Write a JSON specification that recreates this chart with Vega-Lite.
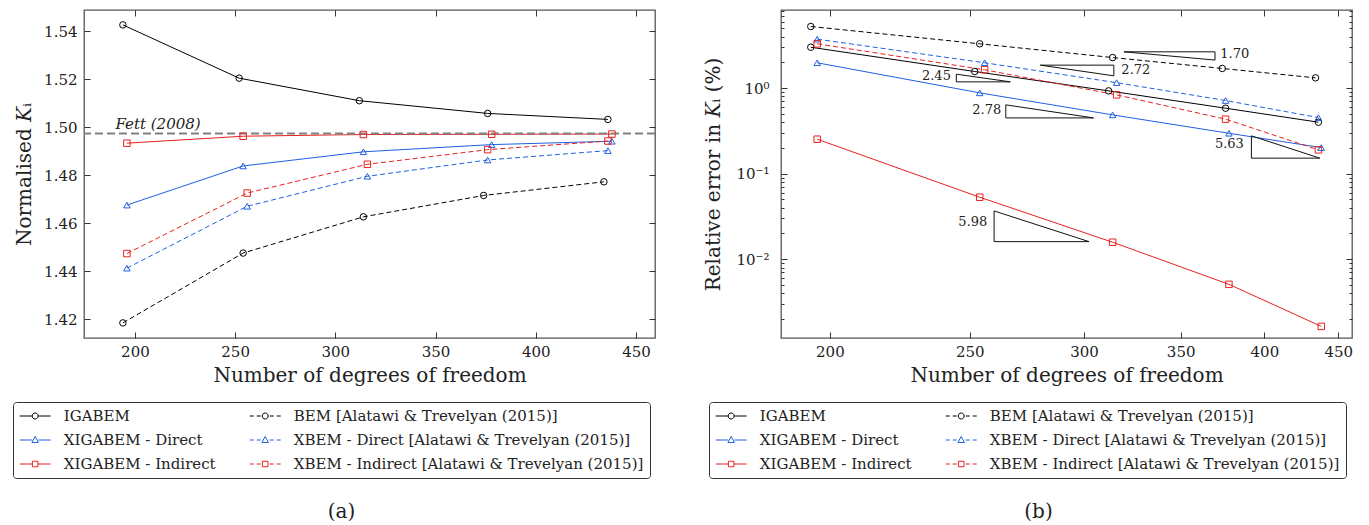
{
  "$schema": "https://vega.github.io/schema/vega-lite/v6.json",
  "autosize": {"type": "pad"},
  "padding": {"left": 11, "top": 3, "right": 14, "bottom": 3},
  "spacing": 126,
  "bounds": "flush",
  "background": "white",
  "config": {
    "font": "DejaVu Serif",
    "view": {"stroke": "#555555", "strokeWidth": 1.3},
    "axis": {
      "domain": false, "grid": false, "tickColor": "#333333", "tickWidth": 1,
      "labelFont": "DejaVu Serif", "labelFontSize": 15, "labelColor": "#222222",
      "titleFont": "DejaVu Serif", "titleFontSize": 20, "titleFontWeight": "normal", "titleColor": "#222222",
      "labelFlush": false, "labelOverlap": false, "labelBound": false
    },
    "legend": {
      "labelFont": "DejaVu Serif", "labelFontSize": 15, "labelColor": "#222222", "labelOffset": 28.8, "labelLimit": 500,
      "columnPadding": 31, "rowPadding": 8, "padding": 6, "strokeColor": "#333333", "cornerRadius": 3, "fillColor": "white",
      "symbolSize": 225, "symbolStrokeWidth": 1, "symbolFillColor": "transparent", "symbolOpacity": 1
    },
    "title": {"font": "DejaVu Serif", "fontSize": 20, "fontWeight": "normal", "color": "#222222"}
  },
  "resolve": {"scale": {"color": "independent", "shape": "independent"}},
  "datasets": {
    "kn": [
      {"series": "IGABEM", "dof": 194, "k": 1.5426},
      {"series": "IGABEM", "dof": 252, "k": 1.5204},
      {"series": "IGABEM", "dof": 312, "k": 1.5110},
      {"series": "IGABEM", "dof": 376, "k": 1.5057},
      {"series": "IGABEM", "dof": 436, "k": 1.5032},
      {"series": "BEM [Alatawi & Trevelyan (2015)]", "dof": 194, "k": 1.4184},
      {"series": "BEM [Alatawi & Trevelyan (2015)]", "dof": 254, "k": 1.4475},
      {"series": "BEM [Alatawi & Trevelyan (2015)]", "dof": 314, "k": 1.4626},
      {"series": "BEM [Alatawi & Trevelyan (2015)]", "dof": 374, "k": 1.4715},
      {"series": "BEM [Alatawi & Trevelyan (2015)]", "dof": 434, "k": 1.4772},
      {"series": "XIGABEM - Direct", "dof": 196, "k": 1.4675},
      {"series": "XIGABEM - Direct", "dof": 254, "k": 1.4838},
      {"series": "XIGABEM - Direct", "dof": 314, "k": 1.4897},
      {"series": "XIGABEM - Direct", "dof": 378, "k": 1.4927},
      {"series": "XIGABEM - Direct", "dof": 438, "k": 1.4941},
      {"series": "XBEM - Direct [Alatawi & Trevelyan (2015)]", "dof": 196, "k": 1.4412},
      {"series": "XBEM - Direct [Alatawi & Trevelyan (2015)]", "dof": 256, "k": 1.4670},
      {"series": "XBEM - Direct [Alatawi & Trevelyan (2015)]", "dof": 316, "k": 1.4795},
      {"series": "XBEM - Direct [Alatawi & Trevelyan (2015)]", "dof": 376, "k": 1.4863},
      {"series": "XBEM - Direct [Alatawi & Trevelyan (2015)]", "dof": 436, "k": 1.4902},
      {"series": "XIGABEM - Indirect", "dof": 196, "k": 1.4933},
      {"series": "XIGABEM - Indirect", "dof": 254, "k": 1.4962},
      {"series": "XIGABEM - Indirect", "dof": 314, "k": 1.4969},
      {"series": "XIGABEM - Indirect", "dof": 378, "k": 1.4970},
      {"series": "XIGABEM - Indirect", "dof": 438, "k": 1.4971},
      {"series": "XBEM - Indirect [Alatawi & Trevelyan (2015)]", "dof": 196, "k": 1.4473},
      {"series": "XBEM - Indirect [Alatawi & Trevelyan (2015)]", "dof": 256, "k": 1.4725},
      {"series": "XBEM - Indirect [Alatawi & Trevelyan (2015)]", "dof": 316, "k": 1.4845},
      {"series": "XBEM - Indirect [Alatawi & Trevelyan (2015)]", "dof": 376, "k": 1.4906},
      {"series": "XBEM - Indirect [Alatawi & Trevelyan (2015)]", "dof": 436, "k": 1.4942}
    ],
    "err": [
      {"series": "IGABEM", "dof": 194, "e": 3.01},
      {"series": "IGABEM", "dof": 252, "e": 1.565},
      {"series": "IGABEM", "dof": 312, "e": 0.930},
      {"series": "IGABEM", "dof": 376, "e": 0.583},
      {"series": "IGABEM", "dof": 436, "e": 0.400},
      {"series": "BEM [Alatawi & Trevelyan (2015)]", "dof": 194, "e": 5.26},
      {"series": "BEM [Alatawi & Trevelyan (2015)]", "dof": 254, "e": 3.30},
      {"series": "BEM [Alatawi & Trevelyan (2015)]", "dof": 314, "e": 2.28},
      {"series": "BEM [Alatawi & Trevelyan (2015)]", "dof": 374, "e": 1.70},
      {"series": "BEM [Alatawi & Trevelyan (2015)]", "dof": 434, "e": 1.32},
      {"series": "XIGABEM - Direct", "dof": 196, "e": 1.98},
      {"series": "XIGABEM - Direct", "dof": 254, "e": 0.881},
      {"series": "XIGABEM - Direct", "dof": 314, "e": 0.487},
      {"series": "XIGABEM - Direct", "dof": 378, "e": 0.297},
      {"series": "XIGABEM - Direct", "dof": 438, "e": 0.202},
      {"series": "XBEM - Direct [Alatawi & Trevelyan (2015)]", "dof": 196, "e": 3.74},
      {"series": "XBEM - Direct [Alatawi & Trevelyan (2015)]", "dof": 256, "e": 1.98},
      {"series": "XBEM - Direct [Alatawi & Trevelyan (2015)]", "dof": 316, "e": 1.16},
      {"series": "XBEM - Direct [Alatawi & Trevelyan (2015)]", "dof": 376, "e": 0.717},
      {"series": "XBEM - Direct [Alatawi & Trevelyan (2015)]", "dof": 436, "e": 0.453},
      {"series": "XIGABEM - Indirect", "dof": 196, "e": 0.253},
      {"series": "XIGABEM - Indirect", "dof": 254, "e": 0.0531},
      {"series": "XIGABEM - Indirect", "dof": 314, "e": 0.0158},
      {"series": "XIGABEM - Indirect", "dof": 378, "e": 0.00509},
      {"series": "XIGABEM - Indirect", "dof": 438, "e": 0.00164},
      {"series": "XBEM - Indirect [Alatawi & Trevelyan (2015)]", "dof": 196, "e": 3.30},
      {"series": "XBEM - Indirect [Alatawi & Trevelyan (2015)]", "dof": 256, "e": 1.64},
      {"series": "XBEM - Indirect [Alatawi & Trevelyan (2015)]", "dof": 316, "e": 0.835},
      {"series": "XBEM - Indirect [Alatawi & Trevelyan (2015)]", "dof": 376, "e": 0.434},
      {"series": "XBEM - Indirect [Alatawi & Trevelyan (2015)]", "dof": 436, "e": 0.190}
    ],
    "tri": [
      {"id": "t170", "ord": 1, "dof": 319.7, "e": 2.66},
      {"id": "t170", "ord": 2, "dof": 369.7, "e": 2.66},
      {"id": "t170", "ord": 3, "dof": 369.7, "e": 2.13},
      {"id": "t170", "ord": 4, "dof": 319.7, "e": 2.66},
      {"id": "t272", "ord": 1, "dof": 279.8, "e": 1.858},
      {"id": "t272", "ord": 2, "dof": 314.6, "e": 1.858},
      {"id": "t272", "ord": 3, "dof": 314.6, "e": 1.393},
      {"id": "t272", "ord": 4, "dof": 279.8, "e": 1.858},
      {"id": "t245", "ord": 1, "dof": 244.7, "e": 1.458},
      {"id": "t245", "ord": 2, "dof": 244.7, "e": 1.185},
      {"id": "t245", "ord": 3, "dof": 266.7, "e": 1.185},
      {"id": "t245", "ord": 4, "dof": 244.7, "e": 1.458},
      {"id": "t278", "ord": 1, "dof": 264.8, "e": 0.638},
      {"id": "t278", "ord": 2, "dof": 264.8, "e": 0.449},
      {"id": "t278", "ord": 3, "dof": 304.6, "e": 0.449},
      {"id": "t278", "ord": 4, "dof": 264.8, "e": 0.638},
      {"id": "t563", "ord": 1, "dof": 391.8, "e": 0.277},
      {"id": "t563", "ord": 2, "dof": 391.8, "e": 0.152},
      {"id": "t563", "ord": 3, "dof": 437.0, "e": 0.152},
      {"id": "t563", "ord": 4, "dof": 391.8, "e": 0.277},
      {"id": "t598", "ord": 1, "dof": 259.9, "e": 0.0367},
      {"id": "t598", "ord": 2, "dof": 259.9, "e": 0.01606},
      {"id": "t598", "ord": 3, "dof": 302.4, "e": 0.01606},
      {"id": "t598", "ord": 4, "dof": 259.9, "e": 0.0367}
    ],
    "triLabels": [
      {"label": "1.70", "dof": 372.8, "e": 2.50},
      {"label": "2.72", "dof": 318.4, "e": 1.64},
      {"label": "2.45", "dof": 242.6, "e": 1.37},
      {"label": "2.78", "dof": 262.9, "e": 0.557},
      {"label": "5.63", "dof": 387.1, "e": 0.225},
      {"label": "5.98", "dof": 257.1, "e": 0.0273}
    ],
    "fett": [{"label": "Fett (2008)", "dof": 190.3, "k": 1.4991, "ref": 1.4973}]
  },
  "hconcat": [
    {
      "width": 571, "height": 328,
      "title": {"text": "(a)", "orient": "bottom", "anchor": "middle", "offset": 23, "dx": -28},
      "resolve": {"axis": {"x": "independent", "y": "independent"}},
      "layer": [
        {
          "data": {"name": "kn"},
          "transform": [{"filter": "datum.series == 'IGABEM'"}],
          "mark": {"type": "line", "strokeWidth": 1, "color": "#000000"},
          "encoding": {
            "x": {"field": "dof", "type": "quantitative", "scale": {"domain": [174.6, 459.5], "nice": false, "zero": false},
                  "axis": {"orient": "bottom", "title": "Number of degrees of freedom", "values": [200, 250, 300, 350, 400, 450], "tickSize": -6, "labelPadding": 12, "titlePadding": 6}},
            "y": {"field": "k", "type": "quantitative", "scale": {"domain": [1.4121, 1.5488], "nice": false, "zero": false},
                  "axis": {"orient": "left", "title": "Normalised 𝐾ᵢ", "values": [1.42, 1.44, 1.46, 1.48, 1.5, 1.52, 1.54], "format": ".2f", "tickSize": -6, "labelPadding": 13, "titlePadding": 9}}
          }
        },
        {
          "data": {"name": "kn"},
          "transform": [{"filter": "datum.series == 'BEM [Alatawi & Trevelyan (2015)]'"}],
          "mark": {"type": "line", "strokeWidth": 1, "color": "#000000", "strokeDash": [5, 3]},
          "encoding": {"x": {"field": "dof", "type": "quantitative", "axis": null}, "y": {"field": "k", "type": "quantitative", "axis": null}}
        },
        {
          "data": {"name": "kn"},
          "transform": [{"filter": "datum.series == 'XIGABEM - Direct'"}],
          "mark": {"type": "line", "strokeWidth": 1, "color": "#1f5fe0"},
          "encoding": {"x": {"field": "dof", "type": "quantitative", "axis": null}, "y": {"field": "k", "type": "quantitative", "axis": null}}
        },
        {
          "data": {"name": "kn"},
          "transform": [{"filter": "datum.series == 'XBEM - Direct [Alatawi & Trevelyan (2015)]'"}],
          "mark": {"type": "line", "strokeWidth": 1, "color": "#1f5fe0", "strokeDash": [5, 3]},
          "encoding": {"x": {"field": "dof", "type": "quantitative", "axis": null}, "y": {"field": "k", "type": "quantitative", "axis": null}}
        },
        {
          "data": {"name": "kn"},
          "transform": [{"filter": "datum.series == 'XIGABEM - Indirect'"}],
          "mark": {"type": "line", "strokeWidth": 1, "color": "#e8201e"},
          "encoding": {"x": {"field": "dof", "type": "quantitative", "axis": null}, "y": {"field": "k", "type": "quantitative", "axis": null}}
        },
        {
          "data": {"name": "kn"},
          "transform": [{"filter": "datum.series == 'XBEM - Indirect [Alatawi & Trevelyan (2015)]'"}],
          "mark": {"type": "line", "strokeWidth": 1, "color": "#e8201e", "strokeDash": [5, 3]},
          "encoding": {"x": {"field": "dof", "type": "quantitative", "axis": null}, "y": {"field": "k", "type": "quantitative", "axis": null}}
        },
        {
          "data": {"name": "fett"},
          "mark": {"type": "rule", "color": "#808080", "strokeWidth": 2, "strokeDash": [8, 4]},
          "encoding": {
            "y": {"field": "ref", "type": "quantitative", "axis": {"orient": "right", "labels": false, "title": null, "values": [1.42, 1.44, 1.46, 1.48, 1.5, 1.52, 1.54], "tickSize": -6}}
          }
        },
        {
          "data": {"name": "fett"},
          "mark": {"type": "text", "align": "left", "baseline": "alphabetic", "fontStyle": "italic", "fontSize": 15, "color": "#222222"},
          "encoding": {
            "x": {"field": "dof", "type": "quantitative", "axis": {"orient": "top", "labels": false, "title": null, "values": [200, 250, 300, 350, 400, 450], "tickSize": -6}},
            "y": {"field": "k", "type": "quantitative", "axis": null},
            "text": {"field": "label"}
          }
        },
        {
          "data": {"name": "kn"},
          "transform": [{"filter": "datum.series == 'IGABEM' || datum.series == 'BEM [Alatawi & Trevelyan (2015)]'"}],
          "mark": {"type": "point", "shape": "circle", "filled": false, "size": 42, "strokeWidth": 1, "opacity": 1, "color": "#000000"},
          "encoding": {"x": {"field": "dof", "type": "quantitative", "axis": null}, "y": {"field": "k", "type": "quantitative", "axis": null}}
        },
        {
          "data": {"name": "kn"},
          "transform": [{"filter": "indexof(datum.series, 'Direct') >= 0"}],
          "mark": {"type": "point", "shape": "triangle-up", "filled": false, "size": 42, "strokeWidth": 1, "opacity": 1, "color": "#1f5fe0"},
          "encoding": {"x": {"field": "dof", "type": "quantitative", "axis": null}, "y": {"field": "k", "type": "quantitative", "axis": null}}
        },
        {
          "data": {"name": "kn"},
          "transform": [{"filter": "indexof(datum.series, 'Indirect') >= 0"}],
          "mark": {"type": "point", "shape": "square", "filled": false, "size": 42, "strokeWidth": 1, "opacity": 1, "color": "#e8201e"},
          "encoding": {"x": {"field": "dof", "type": "quantitative", "axis": null}, "y": {"field": "k", "type": "quantitative", "axis": null}}
        },
        {
          "data": {"name": "kn"},
          "transform": [{"filter": "false"}],
          "mark": {"type": "point", "filled": false, "size": 225, "strokeWidth": 1, "opacity": 1},
          "encoding": {
            "x": {"field": "dof", "type": "quantitative", "axis": null},
            "y": {"field": "k", "type": "quantitative", "axis": null},
            "color": {"field": "series", "type": "nominal",
                      "scale": {"domain": ["IGABEM", "XIGABEM - Direct", "XIGABEM - Indirect", "BEM [Alatawi & Trevelyan (2015)]", "XBEM - Direct [Alatawi & Trevelyan (2015)]", "XBEM - Indirect [Alatawi & Trevelyan (2015)]"],
                                "range": ["#000000", "#1f5fe0", "#e8201e", "#000000", "#1f5fe0", "#e8201e"]},
                      "legend": {"orient": "none", "legendX": -71, "legendY": 392, "columns": 2, "title": null}},
            "shape": {"field": "series", "type": "nominal",
                      "scale": {"domain": ["IGABEM", "XIGABEM - Direct", "XIGABEM - Indirect", "BEM [Alatawi & Trevelyan (2015)]", "XBEM - Direct [Alatawi & Trevelyan (2015)]", "XBEM - Indirect [Alatawi & Trevelyan (2015)]"],
                                "range": [
                                  "M-0.97,0H0.69M1.49,0H3.16M0.69,0A0.4,0.4 0 1,1 1.49,0A0.4,0.4 0 1,1 0.69,0Z",
                                  "M-0.97,0H0.65M1.53,0H3.16M1.09,-0.47L1.53,0.33L0.65,0.33Z",
                                  "M-0.97,0H0.72M1.46,0H3.16M0.72,-0.37H1.46V0.37H0.72Z",
                                  "M-0.97,0H-0.44M-0.04,0H0.49M1.69,0H2.23M2.63,0H3.16M0.69,0A0.4,0.4 0 1,1 1.49,0A0.4,0.4 0 1,1 0.69,0Z",
                                  "M-0.97,0H-0.44M-0.04,0H0.49M1.69,0H2.23M2.63,0H3.16M1.09,-0.47L1.53,0.33L0.65,0.33Z",
                                  "M-0.97,0H-0.44M-0.04,0H0.49M1.69,0H2.23M2.63,0H3.16M0.72,-0.37H1.46V0.37H0.72Z"
                                ]},
                      "legend": {"orient": "none", "legendX": -71, "legendY": 392, "columns": 2, "title": null}}
          }
        }
      ]
    },
    {
      "width": 571, "height": 328,
      "title": {"text": "(b)", "orient": "bottom", "anchor": "middle", "offset": 23, "dx": -28},
      "resolve": {"axis": {"x": "independent", "y": "independent"}},
      "layer": [
        {
          "data": {"name": "err"},
          "transform": [{"filter": "datum.series == 'IGABEM'"}],
          "mark": {"type": "line", "strokeWidth": 1, "color": "#000000"},
          "encoding": {
            "x": {"field": "dof", "type": "quantitative", "scale": {"type": "log", "domain": [185, 460], "nice": false, "zero": false},
                  "axis": {"orient": "bottom", "title": "Number of degrees of freedom", "values": [200, 250, 300, 350, 400, 450], "format": "d", "tickSize": -6, "labelPadding": 12, "titlePadding": 6}},
            "y": {"field": "e", "type": "quantitative", "scale": {"type": "log", "domain": [0.0012, 8.2], "nice": false, "zero": false},
                  "axis": {"orient": "left", "title": "Relative error in 𝐾ᵢ (%)",
                           "values": [0.002, 0.003, 0.004, 0.005, 0.006, 0.007, 0.008, 0.009, 0.01, 0.02, 0.03, 0.04, 0.05, 0.06, 0.07, 0.08, 0.09, 0.1, 0.2, 0.3, 0.4, 0.5, 0.6, 0.7, 0.8, 0.9, 1, 2, 3, 4, 5, 6, 7, 8],
                           "labelExpr": "datum.value == 1 ? '10⁰' : datum.value == 0.1 ? '10⁻¹' : datum.value == 0.01 ? '10⁻²' : ''",
                           "tickSize": {"condition": {"test": "datum.value == 1 || datum.value == 0.1 || datum.value == 0.01", "value": -6}, "value": -3},
                           "labelPadding": 18, "titlePadding": 12}}
          }
        },
        {
          "data": {"name": "err"},
          "transform": [{"filter": "datum.series == 'BEM [Alatawi & Trevelyan (2015)]'"}],
          "mark": {"type": "line", "strokeWidth": 1, "color": "#000000", "strokeDash": [5, 3]},
          "encoding": {"x": {"field": "dof", "type": "quantitative", "axis": null}, "y": {"field": "e", "type": "quantitative", "axis": null}}
        },
        {
          "data": {"name": "err"},
          "transform": [{"filter": "datum.series == 'XIGABEM - Direct'"}],
          "mark": {"type": "line", "strokeWidth": 1, "color": "#1f5fe0"},
          "encoding": {"x": {"field": "dof", "type": "quantitative", "axis": null}, "y": {"field": "e", "type": "quantitative", "axis": null}}
        },
        {
          "data": {"name": "err"},
          "transform": [{"filter": "datum.series == 'XBEM - Direct [Alatawi & Trevelyan (2015)]'"}],
          "mark": {"type": "line", "strokeWidth": 1, "color": "#1f5fe0", "strokeDash": [5, 3]},
          "encoding": {"x": {"field": "dof", "type": "quantitative", "axis": null}, "y": {"field": "e", "type": "quantitative", "axis": null}}
        },
        {
          "data": {"name": "err"},
          "transform": [{"filter": "datum.series == 'XIGABEM - Indirect'"}],
          "mark": {"type": "line", "strokeWidth": 1, "color": "#e8201e"},
          "encoding": {"x": {"field": "dof", "type": "quantitative", "axis": null}, "y": {"field": "e", "type": "quantitative", "axis": null}}
        },
        {
          "data": {"name": "err"},
          "transform": [{"filter": "datum.series == 'XBEM - Indirect [Alatawi & Trevelyan (2015)]'"}],
          "mark": {"type": "line", "strokeWidth": 1, "color": "#e8201e", "strokeDash": [5, 3]},
          "encoding": {"x": {"field": "dof", "type": "quantitative", "axis": null}, "y": {"field": "e", "type": "quantitative", "axis": null}}
        },
        {
          "data": {"name": "tri"},
          "mark": {"type": "line", "strokeWidth": 1, "color": "#111111"},
          "encoding": {
            "x": {"field": "dof", "type": "quantitative", "axis": {"orient": "top", "labels": false, "title": null, "values": [200, 250, 300, 350, 400, 450], "tickSize": -6}},
            "y": {"field": "e", "type": "quantitative",
                  "axis": {"orient": "right", "labels": false, "title": null,
                           "values": [0.002, 0.003, 0.004, 0.005, 0.006, 0.007, 0.008, 0.009, 0.01, 0.02, 0.03, 0.04, 0.05, 0.06, 0.07, 0.08, 0.09, 0.1, 0.2, 0.3, 0.4, 0.5, 0.6, 0.7, 0.8, 0.9, 1, 2, 3, 4, 5, 6, 7, 8],
                           "tickSize": {"condition": {"test": "datum.value == 1 || datum.value == 0.1 || datum.value == 0.01", "value": -6}, "value": -3}}},
            "detail": {"field": "id"},
            "order": {"field": "ord"}
          }
        },
        {
          "data": {"name": "triLabels"},
          "transform": [{"filter": "datum.label == '1.70' || datum.label == '2.72'"}],
          "mark": {"type": "text", "align": "left", "baseline": "middle", "fontSize": 13, "color": "#222222"},
          "encoding": {
            "x": {"field": "dof", "type": "quantitative", "axis": null},
            "y": {"field": "e", "type": "quantitative", "axis": null},
            "text": {"field": "label"}
          }
        },
        {
          "data": {"name": "triLabels"},
          "transform": [{"filter": "datum.label != '1.70' && datum.label != '2.72'"}],
          "mark": {"type": "text", "align": "right", "baseline": "middle", "fontSize": 13, "color": "#222222"},
          "encoding": {
            "x": {"field": "dof", "type": "quantitative", "axis": null},
            "y": {"field": "e", "type": "quantitative", "axis": null},
            "text": {"field": "label"}
          }
        },
        {
          "data": {"name": "err"},
          "transform": [{"filter": "datum.series == 'IGABEM' || datum.series == 'BEM [Alatawi & Trevelyan (2015)]'"}],
          "mark": {"type": "point", "shape": "circle", "filled": false, "size": 42, "strokeWidth": 1, "opacity": 1, "color": "#000000"},
          "encoding": {"x": {"field": "dof", "type": "quantitative", "axis": null}, "y": {"field": "e", "type": "quantitative", "axis": null}}
        },
        {
          "data": {"name": "err"},
          "transform": [{"filter": "indexof(datum.series, 'Direct') >= 0"}],
          "mark": {"type": "point", "shape": "triangle-up", "filled": false, "size": 42, "strokeWidth": 1, "opacity": 1, "color": "#1f5fe0"},
          "encoding": {"x": {"field": "dof", "type": "quantitative", "axis": null}, "y": {"field": "e", "type": "quantitative", "axis": null}}
        },
        {
          "data": {"name": "err"},
          "transform": [{"filter": "indexof(datum.series, 'Indirect') >= 0"}],
          "mark": {"type": "point", "shape": "square", "filled": false, "size": 42, "strokeWidth": 1, "opacity": 1, "color": "#e8201e"},
          "encoding": {"x": {"field": "dof", "type": "quantitative", "axis": null}, "y": {"field": "e", "type": "quantitative", "axis": null}}
        },
        {
          "data": {"name": "err"},
          "transform": [{"filter": "false"}],
          "mark": {"type": "point", "filled": false, "size": 225, "strokeWidth": 1, "opacity": 1},
          "encoding": {
            "x": {"field": "dof", "type": "quantitative", "axis": null},
            "y": {"field": "e", "type": "quantitative", "axis": null},
            "color": {"field": "series", "type": "nominal",
                      "scale": {"domain": ["IGABEM", "XIGABEM - Direct", "XIGABEM - Indirect", "BEM [Alatawi & Trevelyan (2015)]", "XBEM - Direct [Alatawi & Trevelyan (2015)]", "XBEM - Indirect [Alatawi & Trevelyan (2015)]"],
                                "range": ["#000000", "#1f5fe0", "#e8201e", "#000000", "#1f5fe0", "#e8201e"]},
                      "legend": {"orient": "none", "legendX": -72, "legendY": 392, "columns": 2, "title": null}},
            "shape": {"field": "series", "type": "nominal",
                      "scale": {"domain": ["IGABEM", "XIGABEM - Direct", "XIGABEM - Indirect", "BEM [Alatawi & Trevelyan (2015)]", "XBEM - Direct [Alatawi & Trevelyan (2015)]", "XBEM - Indirect [Alatawi & Trevelyan (2015)]"],
                                "range": [
                                  "M-0.97,0H0.69M1.49,0H3.16M0.69,0A0.4,0.4 0 1,1 1.49,0A0.4,0.4 0 1,1 0.69,0Z",
                                  "M-0.97,0H0.65M1.53,0H3.16M1.09,-0.47L1.53,0.33L0.65,0.33Z",
                                  "M-0.97,0H0.72M1.46,0H3.16M0.72,-0.37H1.46V0.37H0.72Z",
                                  "M-0.97,0H-0.44M-0.04,0H0.49M1.69,0H2.23M2.63,0H3.16M0.69,0A0.4,0.4 0 1,1 1.49,0A0.4,0.4 0 1,1 0.69,0Z",
                                  "M-0.97,0H-0.44M-0.04,0H0.49M1.69,0H2.23M2.63,0H3.16M1.09,-0.47L1.53,0.33L0.65,0.33Z",
                                  "M-0.97,0H-0.44M-0.04,0H0.49M1.69,0H2.23M2.63,0H3.16M0.72,-0.37H1.46V0.37H0.72Z"
                                ]},
                      "legend": {"orient": "none", "legendX": -72, "legendY": 392, "columns": 2, "title": null}}
          }
        }
      ]
    }
  ]
}
